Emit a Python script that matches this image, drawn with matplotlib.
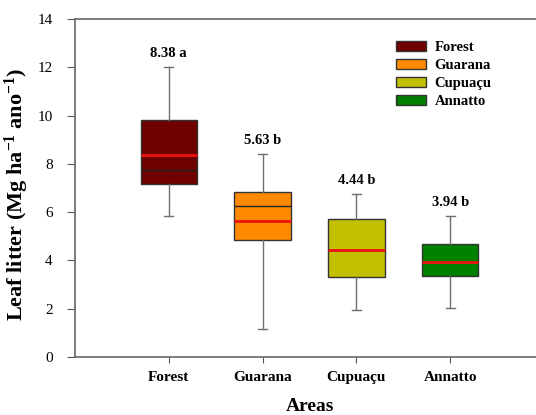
import matplotlib
matplotlib.use("Agg")
import matplotlib.pyplot as plt
from matplotlib.patches import Patch

categories = ["Forest", "Guarana", "Cupuaçu", "Annatto"]
whisker_low = [5.83, 1.15, 1.95, 2.01]
q1 = [7.17, 4.85, 3.33, 3.37]
median = [7.75, 6.25, 4.44, 3.94]
q3 = [9.80, 6.82, 5.72, 4.68]
whisker_high = [12.0, 8.42, 6.75, 5.84]
means = [8.38, 5.63, 4.44, 3.94]
letters = ["a", "b", "b", "b"]
colors = ["#6e0000", "#ff8a00", "#c2c000", "#008000"]

plt.rcParams["font.family"] = ["Liberation Serif", "DejaVu Serif"]
plt.rcParams["mathtext.fontset"] = "custom"
plt.rcParams["mathtext.rm"] = "Liberation Serif"
plt.rcParams["mathtext.bf"] = "Liberation Serif:bold"
plt.rcParams["mathtext.it"] = "Liberation Serif:italic"

fig = plt.figure(figsize=(5.36, 4.15), dpi=100)
ax = fig.add_axes([75/536, 1-357/415, (544-75)/536, (357-19)/415])

stats = []
for i, c in enumerate(categories):
    stats.append(dict(label=c, whislo=whisker_low[i], q1=q1[i], med=median[i],
                      q3=q3[i], whishi=whisker_high[i], mean=means[i], fliers=[]))

positions = list(range(1, len(categories) + 1))
bp = ax.bxp(stats, positions=positions, widths=0.6, patch_artist=True,
            showmeans=True, meanline=True, capwidths=0.1,
            boxprops=dict(edgecolor="#333333", linewidth=1.0),
            medianprops=dict(color="#222222", linewidth=1.0),
            meanprops=dict(color="#ee1111", linewidth=2.0, linestyle="-"),
            whiskerprops=dict(color="#707070", linewidth=1.0),
            capprops=dict(color="#707070", linewidth=1.0))
for patch, col in zip(bp["boxes"], colors):
    patch.set_facecolor(col)

for i, p in enumerate(positions):
    ax.annotate(f"{means[i]:.2f} {letters[i]}", (p, whisker_high[i]),
                xytext=(0, 5), textcoords="offset points", ha="center",
                va="bottom", fontsize=10.5, fontweight="bold")

ax.set_xlim(0, 5)
ax.set_ylim(0, 14)
ax.set_yticks(range(0, 15, 2))
ax.set_xticks(positions)
ax.set_xticklabels(categories, fontweight="bold", fontsize=11)
ax.tick_params(axis="y", labelsize=11, direction="out", length=6, color="#555555", pad=10)
ax.tick_params(axis="x", direction="out", length=4, color="#555555", pad=6)
for s in ax.spines.values():
    s.set_color("#666666")
    s.set_linewidth(1.2)

ax.set_xlabel("Areas", fontsize=14, fontweight="bold", labelpad=10)
ax.set_ylabel(r"Leaf litter (Mg ha$^{\mathbf{-1}}$ ano$^{\mathbf{-1}}$)",
              fontsize=16, fontweight="bold")
ax.yaxis.set_label_coords((31 - 75) / 469, 0.48)

handles = [Patch(facecolor=c, edgecolor="#333333", label=l) for c, l in zip(colors, categories)]
leg = fig.legend(handles=handles, loc="upper left", bbox_to_anchor=(396/536, 1-41/415),
                 frameon=False, prop=dict(weight="bold", size=10.5),
                 handlelength=2.05, handleheight=0.7, handletextpad=0.6, labelspacing=0.32,
                 borderaxespad=0, borderpad=0)

fig.savefig("out.png", dpi=100)
